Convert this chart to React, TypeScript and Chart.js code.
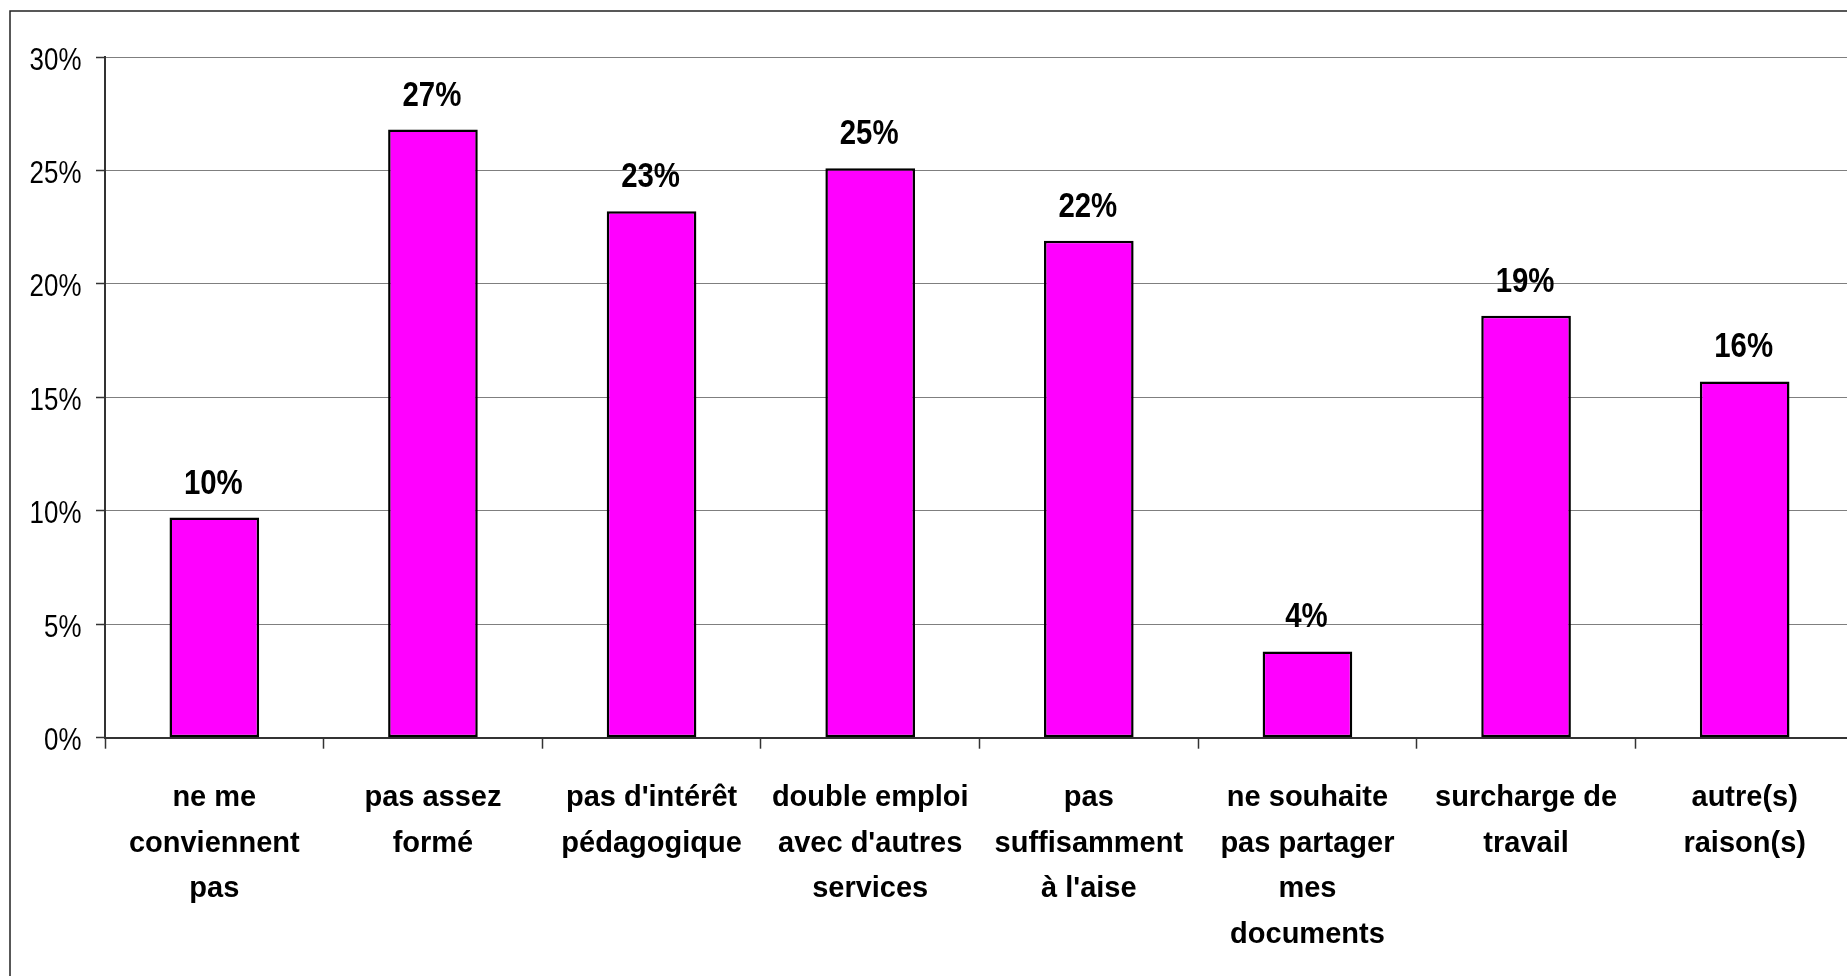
import React, { useEffect, useRef } from "react";
import { Chart, registerables } from "chart.js";

Chart.register(...registerables);

const categories: string[][] = [
  ["ne me", "conviennent", "pas"],
  ["pas assez", "formé"],
  ["pas d'intérêt", "pédagogique"],
  ["double emploi", "avec d'autres", "services"],
  ["pas", "suffisamment", "à l'aise"],
  ["ne souhaite", "pas partager", "mes", "documents"],
  ["surcharge de", "travail"],
  ["autre(s)", "raison(s)"],
];
const values: number[] = [9.7, 26.8, 23.2, 25.1, 21.9, 3.8, 18.6, 15.7];
const valueLabels: string[] = ["10%", "27%", "23%", "25%", "22%", "4%", "19%", "16%"];
const yMin = 0;
const yMax = 30;
const yStep = 5;

const CANVAS_W = 1880;
const CANVAS_H = 976;
const FONT = '"Liberation Sans", Arial, sans-serif';
const TICK_NARROW = 0.81;
const VALUE_NARROW = 0.84;

export default function App() {
  const canvasRef = useRef<HTMLCanvasElement | null>(null);

  useEffect(() => {
    const canvas = canvasRef.current;
    if (!canvas) return;

    const framePlugin = {
      id: "frame",
      beforeDraw(chart: any) {
        const ctx = chart.ctx;
        ctx.save();
        ctx.fillStyle = "#ffffff";
        ctx.fillRect(0, 0, chart.width, chart.height);
        ctx.strokeStyle = "#222222";
        ctx.lineWidth = 1.5;
        ctx.strokeRect(10, 11, 4000, 4000);
        ctx.restore();
      },
    };

    // Narrow-looking numeric text: y tick labels (positions from the y scale) and bar value labels
    const numberTextPlugin = {
      id: "numberText",
      afterDraw(chart: any) {
        const ctx = chart.ctx;
        const yScale = chart.scales.y;
        ctx.save();
        ctx.fillStyle = "#000000";
        ctx.textBaseline = "alphabetic";

        ctx.font = `normal 32px ${FONT}`;
        ctx.textAlign = "right";
        const labelX = yScale.right - 9 - 14.5;
        yScale.ticks.forEach((t: any) => {
          const y = yScale.getPixelForValue(t.value);
          ctx.save();
          ctx.translate(labelX, y + 12.5);
          ctx.scale(TICK_NARROW, 1);
          ctx.fillText(`${t.value}%`, 0, 0);
          ctx.restore();
        });

        ctx.font = `bold 35px ${FONT}`;
        ctx.textAlign = "center";
        const meta = chart.getDatasetMeta(0);
        meta.data.forEach((bar: any, i: number) => {
          ctx.save();
          ctx.translate(bar.x - 1, bar.y - 24);
          ctx.scale(VALUE_NARROW, 1);
          ctx.fillText(valueLabels[i], 0, 0);
          ctx.restore();
        });
        ctx.restore();
      },
    };

    const chart = new Chart(canvas, {
      type: "bar",
      data: {
        labels: categories,
        datasets: [
          {
            data: values,
            backgroundColor: "#FF00FF",
            borderColor: "#000000",
            borderWidth: 2.5,
            borderSkipped: false,
            barPercentage: 0.41,
            categoryPercentage: 1,
          },
        ],
      },
      options: {
        animation: false,
        responsive: false,
        devicePixelRatio: 1,
        layout: { padding: { top: 57, right: 26, bottom: 0, left: 0 } },
        plugins: {
          legend: { display: false },
          tooltip: { enabled: false },
          title: { display: false },
        },
        scales: {
          x: {
            type: "category",
            offset: true,
            grid: {
              offset: true,
              drawOnChartArea: false,
              drawTicks: true,
              tickLength: 11,
              tickColor: "#333333",
              tickWidth: 1.5,
            },
            border: { display: true, color: "#333333", width: 2 },
            ticks: {
              color: "#000000",
              padding: 27,
              maxRotation: 0,
              minRotation: 0,
              autoSkip: false,
              font: { family: FONT, size: 29, weight: "bold", lineHeight: "45.5px" },
            },
            afterFit(scale: any) {
              scale.height = CANVAS_H - 737.7;
            },
          },
          y: {
            type: "linear",
            min: yMin,
            max: yMax,
            ticks: {
              stepSize: yStep,
              color: "rgba(0,0,0,0)",
              padding: 14.5,
              font: { family: FONT, size: 32, weight: "normal" },
              callback: (v: any) => `${v}%`,
            },
            grid: {
              color: "#7f7f7f",
              lineWidth: 1,
              drawTicks: true,
              tickLength: 9,
              tickColor: "#333333",
              tickWidth: 1.5,
            },
            border: { display: true, color: "#333333", width: 2 },
            afterFit(scale: any) {
              scale.width = 105;
            },
          },
        },
      },
      plugins: [framePlugin, numberTextPlugin],
    });

    return () => {
      chart.destroy();
    };
  }, []);

  return (
    <div
      style={{
        position: "fixed",
        left: 0,
        top: 0,
        width: "100vw",
        height: "100vh",
        overflow: "hidden",
        background: "#ffffff",
      }}
    >
      <canvas
        ref={canvasRef}
        width={CANVAS_W}
        height={CANVAS_H}
        style={{ display: "block", width: `${CANVAS_W}px`, height: `${CANVAS_H}px` }}
      />
    </div>
  );
}
